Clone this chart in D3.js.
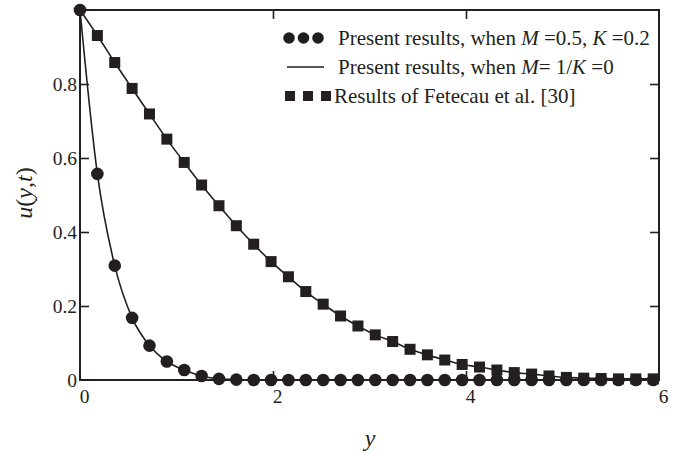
<!DOCTYPE html>
<html>
<head>
<meta charset="utf-8">
<script src="https://cdn.jsdelivr.net/npm/d3@7/dist/d3.min.js"></script>
<style>
  html, body { margin: 0; padding: 0; background: #fff; }
  svg { display: block; }
  svg text { font-family: "Liberation Serif", "DejaVu Serif", serif !important; fill: #231f20; }
</style>
</head>
<body>
<svg id="chart" width="677" height="456"></svg>
<script>
// Sample positions along y (same grid for both data sets)
const yPositions = [0, 0.18, 0.36, 0.54, 0.72, 0.90, 1.08, 1.26, 1.44, 1.62, 1.80,
  1.98, 2.16, 2.34, 2.52, 2.70, 2.88, 3.06, 3.24, 3.42, 3.60, 3.78, 3.96, 4.14,
  4.32, 4.50, 4.68, 4.86, 5.04, 5.22, 5.40, 5.58, 5.76, 5.94];

// Present results, M = 0.5, K = 0.2 (circles)
const uPresentMK = [1.0, 0.557, 0.309, 0.168, 0.093, 0.050, 0.027, 0.011, 0.003,
  0.001, 0, 0, 0, 0, 0, 0, 0, 0, 0, 0, 0, 0, 0, 0, 0, 0, 0, 0, 0, 0, 0, 0, 0, 0];

// Present results, M = 1/K = 0 (solid line) and Fetecau et al. (squares)
const uPresentZero = [1.0, 0.931, 0.858, 0.788, 0.719, 0.651, 0.588, 0.527, 0.471,
  0.417, 0.367, 0.320, 0.279, 0.239, 0.205, 0.173, 0.146, 0.122, 0.104, 0.083,
  0.068, 0.054, 0.042, 0.035, 0.027, 0.020, 0.016, 0.011, 0.007, 0.005, 0.004,
  0.003, 0.003, 0.003];

const xTickValues = [0, 2, 4, 6];
const xTickLabels = ["0", "2", "4", "6"];
const yTickValues = [0, 0.2, 0.4, 0.6, 0.8];
const yTickLabels = ["0", "0.2", "0.4", "0.6", "0.8"];

const legendLabels = [
  ["Present results, when ", ["M", true], " =0.5, ", ["K", true], " =0.2"],
  ["Present results, when ", ["M", true], "= 1/", ["K", true], " =0"],
  ["Results of Fetecau et al. [30]"]
];

const ink = "#231f20";
const svg = d3.select("#chart");

const x = d3.scaleLinear().domain([0, 6]).range([80, 659]);
const y = d3.scaleLinear().domain([0, 1]).range([380, 10]);

// Axes with inward ticks
const gBottom = svg.append("g").attr("transform", `translate(0,${y(0)})`)
  .call(d3.axisBottom(x).tickValues(xTickValues).tickSize(-9).tickPadding(9)
    .tickFormat((d, i) => xTickLabels[i]));
gBottom.selectAll(".tick line").filter(d => d === 0 || d === 6).remove();
gBottom.selectAll("text").attr("dx", 4);

const gLeft = svg.append("g").attr("transform", `translate(${x(0)},0)`)
  .call(d3.axisLeft(y).tickValues(yTickValues).tickSize(-9).tickPadding(3)
    .tickFormat((d, i) => yTickLabels[i]));
gLeft.selectAll(".tick line").filter(d => d === 0).remove();

const gTop = svg.append("g").attr("transform", `translate(0,${y(1)})`)
  .call(d3.axisTop(x).tickValues([2, 4]).tickSize(-9).tickFormat(""));
const gRight = svg.append("g").attr("transform", `translate(${x(6)},0)`)
  .call(d3.axisRight(y).tickValues([0.2, 0.4, 0.6, 0.8]).tickSize(-9).tickFormat(""));

[gBottom, gLeft, gTop, gRight].forEach(g => {
  g.select(".domain").remove();
  g.selectAll(".tick line").attr("stroke", ink).attr("stroke-width", 1.6);
  g.selectAll("text").style("font-size", "19.5px").attr("fill", ink);
});

// Frame
svg.append("rect")
  .attr("x", x(0)).attr("y", y(1))
  .attr("width", x(6) - x(0)).attr("height", y(0) - y(1))
  .attr("fill", "none").attr("stroke", ink).attr("stroke-width", 2);

// Curves
const line = d3.line().x(d => x(d[0])).y(d => y(d[1])).curve(d3.curveMonotoneX);
const ptsMK = yPositions.map((v, i) => [v, uPresentMK[i]]);
const ptsZero = yPositions.map((v, i) => [v, uPresentZero[i]]);

svg.append("path").attr("d", line(ptsZero))
  .attr("fill", "none").attr("stroke", ink).attr("stroke-width", 1.6);
svg.append("path").attr("d", line(ptsMK))
  .attr("fill", "none").attr("stroke", ink).attr("stroke-width", 1.6);

// Squares: Fetecau et al.
const sq = 11;
svg.append("g").selectAll("rect")
  .data(ptsZero.slice(1))
  .join("rect")
  .attr("x", d => x(d[0]) - sq / 2).attr("y", d => y(d[1]) - sq / 2)
  .attr("width", sq).attr("height", sq).attr("fill", ink);

// Circles: M = 0.5, K = 0.2
svg.append("g").selectAll("circle")
  .data(ptsMK)
  .join("circle")
  .attr("cx", d => x(d[0])).attr("cy", d => y(d[1]))
  .attr("r", 6.3).attr("fill", ink);

// Axis titles
const yTitle = svg.append("text")
  .attr("transform", "translate(32,193) rotate(-90)")
  .attr("text-anchor", "middle").style("font-size", "24px");
yTitle.append("tspan").attr("font-style", "italic").text("u");
yTitle.append("tspan").text("(");
yTitle.append("tspan").attr("font-style", "italic").text("y");
yTitle.append("tspan").text(",");
yTitle.append("tspan").attr("font-style", "italic").text("t");
yTitle.append("tspan").text(")");

svg.append("text").attr("x", 370).attr("y", 446)
  .attr("text-anchor", "middle").style("font-size", "24px")
  .attr("font-style", "italic").text("y");

// Legend
const legendRows = [38, 67, 96];
const lg = svg.append("g");
[289, 303.5, 318].forEach(cx =>
  lg.append("circle").attr("cx", cx).attr("cy", legendRows[0]).attr("r", 5.8).attr("fill", ink));
lg.append("line").attr("x1", 287).attr("x2", 324)
  .attr("y1", legendRows[1]).attr("y2", legendRows[1])
  .attr("stroke", ink).attr("stroke-width", 1.6);
[290, 308, 326].forEach(cx =>
  lg.append("rect").attr("x", cx - 5).attr("y", legendRows[2] - 5)
    .attr("width", 10).attr("height", 10).attr("fill", ink));

legendLabels.forEach((parts, i) => {
  const t = lg.append("text").attr("x", i === 2 ? 334 : 338).attr("y", legendRows[i] + 6.5)
    .style("font-size", "21px");
  parts.forEach(p => {
    if (Array.isArray(p)) t.append("tspan").attr("font-style", "italic").text(p[0]);
    else t.append("tspan").text(p);
  });
});
</script>
</body>
</html>
